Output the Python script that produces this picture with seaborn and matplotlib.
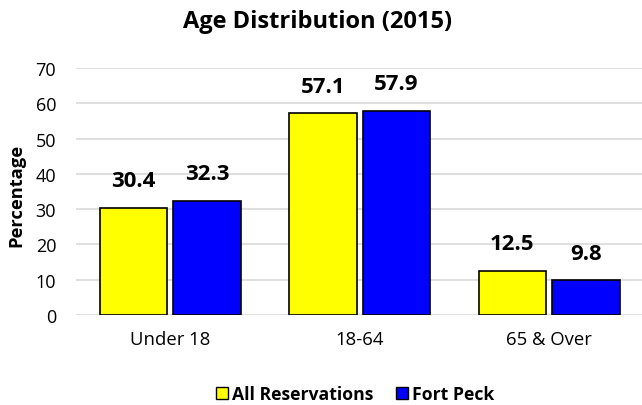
import pandas as pd
import matplotlib
matplotlib.use("Agg")
import matplotlib.pyplot as plt
from matplotlib.patches import Patch
import seaborn as sns

# data
categories = ["Under 18", "18-64", "65 & Over"]
all_reservations = [30.4, 57.1, 12.5]
fort_peck = [32.3, 57.9, 9.8]
series = ["All Reservations", "Fort Peck"]
colors = ["#FFFF00", "#0000FF"]

df = pd.DataFrame({
    "Age": categories * 2,
    "Group": [series[0]] * 3 + [series[1]] * 3,
    "Pct": all_reservations + fort_peck,
})

sns.set_theme(style="white")
plt.rcParams["font.family"] = ["Open Sans", "DejaVu Sans"]
plt.rcParams["text.color"] = "black"
plt.rcParams["axes.labelcolor"] = "black"
plt.rcParams["xtick.color"] = "black"
plt.rcParams["ytick.color"] = "black"

fig = plt.figure(figsize=(6.42, 4.06), dpi=100)
ax = fig.add_axes([0.1178, 0.2217, 0.885, 0.6084])

sns.barplot(
    data=df, x="Age", y="Pct", hue="Group",
    palette=colors, saturation=1, edgecolor="black", linewidth=1.2,
    width=0.776, gap=0.08, ax=ax, legend=False,
)

for cont in ax.containers:
    labels = [f"{v:.1f}" for v in cont.datavalues]
    ax.bar_label(cont, labels=labels, padding=12, fontsize=16, fontweight="bold")

ax.set_ylim(0, 70)
ax.set_yticks(range(0, 71, 10))
ax.yaxis.grid(True, color="#D9D9D9", linewidth=1.2)
ax.set_axisbelow(True)
for s in ax.spines.values():
    s.set_visible(False)
ax.tick_params(axis="y", length=0, labelsize=13, pad=14)
ax.tick_params(axis="x", length=0, labelsize=13.3, pad=11)
ax.set_xlabel("")
ax.set_ylabel("Percentage", fontsize=13.2, fontweight="bold")
ax.yaxis.set_label_coords(-0.089, 0.49)

fig.text(0.495, 0.947, "Age Distribution (2015)", fontsize=17, fontweight="bold",
         ha="center", va="center")

handles = [Patch(facecolor=c, edgecolor="black", label=l) for c, l in zip(colors, series)]
fig.legend(handles=handles, loc="center", bbox_to_anchor=(0.553, 0.027), ncol=2,
           frameon=False, prop={"weight": "bold", "size": 12.7},
           handlelength=0.68, handleheight=0.68, handletextpad=0.2, columnspacing=1.3,
           borderpad=0)

fig.savefig("out.png", dpi=100)
